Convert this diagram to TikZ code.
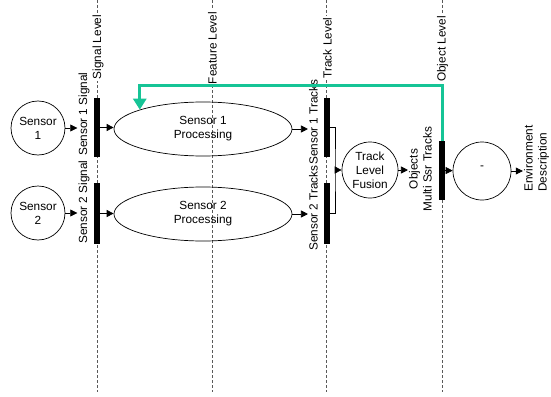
\documentclass[tikz,border=0pt]{standalone}
\usepackage{fontspec}
\setmainfont{Liberation Sans}
\usetikzlibrary{shapes.geometric,arrows.meta}
\definecolor{linkgreen}{RGB}{22,196,150}
\begin{document}
\begin{tikzpicture}[x=1pt,y=-1pt,
  every node/.style={font=\fontsize{11.8}{14}\selectfont, align=center},
  lvl/.style={draw=black!65, line width=0.6pt, dash pattern=on 3pt off 2pt},
  lvllabel/.style={rotate=90, fill=white, inner sep=2pt},
  bar/.style={fill=black, draw=none, minimum width=6pt, inner sep=0pt},
  unit/.style={circle, draw, line width=0.7pt, inner sep=0pt},
  proc/.style={ellipse, draw, line width=0.7pt, minimum width=178pt,
    minimum height=54pt, inner sep=0pt},
  tag/.style={rotate=90, inner sep=1pt},
  flow/.style={draw, line width=0.7pt, -{Triangle[length=7pt,width=7pt]}},
  joint/.style={draw, line width=0.7pt},
  feedback/.style={draw=linkgreen, line width=3pt,
    -{Triangle[length=11pt,width=13pt]}}
]
% canvas
\fill[white] (0,0) rectangle (551,396);
\useasboundingbox (0,0) rectangle (551,396);

% level lines
\draw[lvl] (97,0) -- (97,392);
\draw[lvl] (212,0) -- (212,392);
\draw[lvl] (326.5,0) -- (326.5,392);
\draw[lvl] (442,0) -- (442,392);

\node[lvllabel] (lsig) at (98,47) {Signal Level};
\node[lvllabel] (lfeat) at (212.5,48) {Feature Level};
\node[lvllabel] (ltrk) at (327.5,48) {Track Level};
\node[lvllabel] (lobj) at (442.5,49) {Object Level};

% sensors
\node[unit, minimum size=54pt] (s1) at (38,128) {Sensor\\1};
\node[unit, minimum size=54pt] (s2) at (38,213) {Sensor\\2};

% signal bars
\node[bar, minimum height=59pt] (sb1) at (97,127.5) {};
\node[bar, minimum height=61pt] (sb2) at (97,213.5) {};
\node[tag, anchor=west] (sl1) at (84,157) {Sensor 1 Signal};
\node[tag, anchor=west] (sl2) at (84,245) {Sensor 2 Signal};

% processing
\node[proc] (p1) at (203,129) {Sensor 1\\Processing};
\node[proc] (p2) at (203,214) {Sensor 2\\Processing};

% track bars
\node[bar, minimum height=59pt] (tb1) at (326.5,127.5) {};
\node[bar, minimum height=61pt] (tb2) at (326.5,213.5) {};
\node[tag, anchor=west] (tl1) at (313.5,166) {Sensor 1 Tracks};
\node[tag, anchor=west] (tl2) at (313.5,252) {Sensor 2 Tracks};

% fusion
\node[unit, minimum size=56pt] (fu) at (370,170) {Track\\Level\\Fusion};
\node[tag] (ol) at (420.5,169) {Objects\\Multi Ssr Tracks};

% object level
\node[bar, minimum height=59pt] (ob) at (442,170.5) {};
\node[unit, minimum size=58pt] (dc) at (482,171) {\raisebox{2pt}[0pt][0pt]{-}};
\node[tag, anchor=west, align=left] (el) at (536.5,193) {Environment\\Description};

% flows
\draw[flow] (s1) -- (s1 -| sl1.north);
\draw[flow] (s2) -- (s2 -| sl2.north);
\draw[flow] (sb1) -- (sb1 -| p1.west);
\draw[flow] (sb2) -- (sb2 -| p2.west);
\draw[flow] (p1) -- (p1 -| tl1.north);
\draw[flow] (p2) -- (p2 -| tl2.north);
\coordinate (jn) at (335,170);
\draw[joint] (tb1) -| (jn) |- (tb2);
\draw[flow] (jn) -- (fu);
\draw[flow] (fu) -- (fu -| ol.north);
\draw[flow] (ob) -- (dc);
\draw[flow] (dc) -- (dc -| el.north);

% feedback loop
\coordinate (gy) at (300,85);
\draw[feedback] (ob) |- (gy) -| (p1.163);
\end{tikzpicture}
\end{document}
